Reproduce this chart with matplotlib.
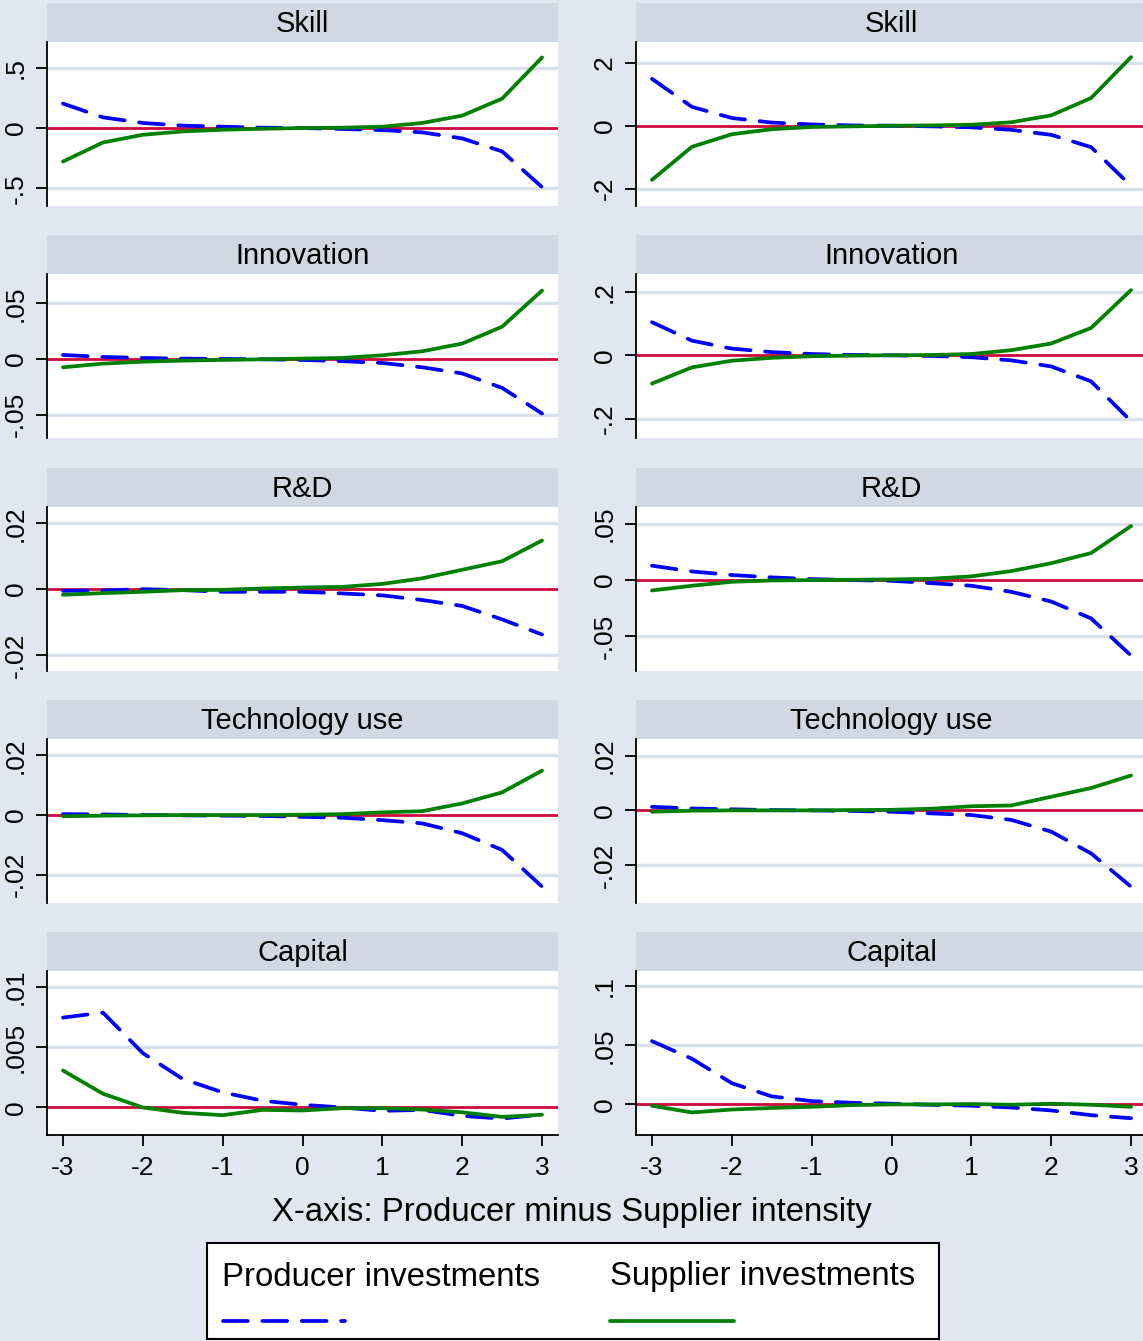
import matplotlib.pyplot as plt
from matplotlib.lines import Line2D

plt.rcParams['font.family'] = ['Liberation Sans', 'DejaVu Sans']

# x grid: producer minus supplier intensity
x = [-3, -2.5, -2, -1.5, -1, -0.5, 0, 0.5, 1, 1.5, 2, 2.5, 3]

titles = ['Skill', 'Innovation', 'R&D', 'Technology use', 'Capital']

# left column
skill_prod_l = [0.203, 0.089, 0.042, 0.02, 0.011, 0.003, 0, -0.008, -0.017, -0.036, -0.086, -0.194, -0.49]
skill_supp_l = [-0.278, -0.12, -0.056, -0.028, -0.014, -0.006, 0, 0.003, 0.011, 0.042, 0.103, 0.244, 0.586]
innov_prod_l = [0.0036, 0.0018, 0.0009, 0.0003, 0, -0.0003, -0.0009, -0.002, -0.0036, -0.0075, -0.013, -0.026, -0.049]
innov_supp_l = [-0.0075, -0.0042, -0.0024, -0.0015, -0.0009, -0.0003, 0.0003, 0.0009, 0.0033, 0.0069, 0.0138, 0.029, 0.0614]
rd_prod_l = [-0.0005, -0.0004, 0, -0.0003, -0.0008, -0.0008, -0.0008, -0.0013, -0.0019, -0.0033, -0.0051, -0.0092, -0.0138]
rd_supp_l = [-0.0017, -0.0012, -0.0008, -0.0003, -0.0002, 0.0002, 0.0005, 0.0007, 0.0016, 0.0033, 0.0059, 0.0085, 0.0148]
tech_prod_l = [0.0003, 0.0002, 0, -0.0001, -0.0002, -0.0003, -0.0006, -0.0009, -0.0017, -0.0028, -0.0061, -0.0117, -0.024]
tech_supp_l = [-0.0004, -0.0002, -0.0001, 0, 0, 0, 0.0001, 0.0003, 0.0009, 0.0013, 0.0039, 0.0076, 0.0149]
cap_prod_l = [0.00744, 0.00786, 0.0045, 0.00236, 0.00125, 0.00056, 0.00022, 0, -0.00028, -0.0002, -0.0007, -0.00092, -0.00058]
cap_supp_l = [0.00306, 0.00114, 0, -0.00044, -0.00064, -0.0002, -0.00025, -0.00006, -0.00006, -0.00017, -0.0004, -0.00078, -0.0006]

# right column
skill_prod_r = [1.49, 0.6, 0.245, 0.1, 0.04, 0.01, 0, -0.02, -0.05, -0.13, -0.29, -0.68, -1.91]
skill_supp_r = [-1.72, -0.67, -0.27, -0.11, -0.04, -0.02, 0, 0.01, 0.03, 0.11, 0.33, 0.88, 2.18]
innov_prod_r = [0.104, 0.046, 0.021, 0.01, 0.004, 0.001, 0, -0.002, -0.006, -0.016, -0.035, -0.082, -0.207]
innov_supp_r = [-0.089, -0.038, -0.017, -0.008, -0.003, -0.001, 0, 0.001, 0.004, 0.016, 0.037, 0.086, 0.205]
rd_prod_r = [0.0128, 0.0077, 0.0045, 0.0024, 0.0009, 0, -0.0006, -0.0027, -0.005, -0.0104, -0.019, -0.034, -0.067]
rd_supp_r = [-0.0092, -0.005, -0.0015, -0.0003, 0, 0.0003, 0.0006, 0.0012, 0.0033, 0.008, 0.015, 0.024, 0.048]
tech_prod_r = [0.0013, 0.0007, 0.0004, 0.0001, 0, -0.0002, -0.0005, -0.0011, -0.0017, -0.0035, -0.0078, -0.0158, -0.028]
tech_supp_r = [-0.0005, -0.0001, 0, 0, 0, 0.0001, 0.0002, 0.0006, 0.0015, 0.0018, 0.005, 0.0082, 0.0128]
cap_prod_r = [0.0536, 0.0387, 0.018, 0.0068, 0.0028, 0.0014, 0.0006, -0.0003, -0.0011, -0.0026, -0.0051, -0.0091, -0.0117]
cap_supp_r = [-0.0011, -0.0068, -0.0043, -0.003, -0.002, -0.0006, 0, 0, 0.0003, -0.0003, 0.0006, -0.0003, -0.002]

prod_l = [skill_prod_l, innov_prod_l, rd_prod_l, tech_prod_l, cap_prod_l]
supp_l = [skill_supp_l, innov_supp_l, rd_supp_l, tech_supp_l, cap_supp_l]
prod_r = [skill_prod_r, innov_prod_r, rd_prod_r, tech_prod_r, cap_prod_r]
supp_r = [skill_supp_r, innov_supp_r, rd_supp_r, tech_supp_r, cap_supp_r]

yticks_l = [[-0.5, 0, 0.5], [-0.05, 0, 0.05], [-0.02, 0, 0.02], [-0.02, 0, 0.02], [0, 0.005, 0.01]]
ylabels_l = [['-.5', '0', '.5'], ['-.05', '0', '.05'], ['-.02', '0', '.02'], ['-.02', '0', '.02'], ['0', '.005', '.01']]
yticks_r = [[-2, 0, 2], [-0.2, 0, 0.2], [-0.05, 0, 0.05], [-0.02, 0, 0.02], [0, 0.05, 0.1]]
ylabels_r = [['-2', '0', '2'], ['-.2', '0', '.2'], ['-.05', '0', '.05'], ['-.02', '0', '.02'], ['0', '.05', '.1']]

ylims_l = [(-0.647, 0.714), (-0.071, 0.0763), (-0.0249, 0.025), (-0.0295, 0.0255), (-0.00228, 0.0113)]
ylims_r = [(-2.55, 2.66), (-0.26, 0.2555), (-0.0807, 0.0649), (-0.034, 0.0262), (-0.0259, 0.113)]

xticks = [-3, -2, -1, 0, 1, 2, 3]

# colours
BG = '#e1e6f0'
BAND = '#d2d8e3'
GRID = '#dae1eb'
BLUE = '#0000ff'
GREEN = '#008000'
RED = '#cc0a3c'

W, H = 1143, 1341
fig = plt.figure(figsize=(W / 100, H / 100), dpi=100)
fig.patch.set_facecolor(BG)


def box(x0, y0, w, h):
    # pixel box (from top-left) -> figure fraction
    return [x0 / W, 1 - (y0 + h) / H, w / W, h / H]


col_x = [47, 636]
col_w = 511
band_top = [3, 235, 468, 700, 932]
band_h = 39
plot_h = 164
LW = 2.7
DASH = (6.6, 3.9)

for c in range(2):
    prods = prod_l if c == 0 else prod_r
    supps = supp_l if c == 0 else supp_r
    yt = yticks_l if c == 0 else yticks_r
    yl = ylabels_l if c == 0 else ylabels_r
    lims = ylims_l if c == 0 else ylims_r
    for r in range(5):
        # title band
        bax = fig.add_axes(box(col_x[c], band_top[r], col_w, band_h))
        bax.set_facecolor(BAND)
        bax.set_xticks([])
        bax.set_yticks([])
        for s in bax.spines.values():
            s.set_visible(False)
        bax.text(0.5, 0.47, titles[r], ha='center', va='center', fontsize=21,
                 transform=bax.transAxes)

        ax = fig.add_axes(box(col_x[c], band_top[r] + band_h, col_w, plot_h))
        ax.set_facecolor('white')
        ax.set_xlim(-3.2, 3.2)
        ax.set_ylim(*lims[r])
        for v in yt[r]:
            if v != 0:
                ax.axhline(v, color=GRID, lw=2.4, zorder=1)
        ax.axhline(0, color=RED, lw=2.0, zorder=2)
        ax.plot(x, prods[r], color=BLUE, lw=LW, dashes=DASH,
                dash_capstyle='round', zorder=3)
        ax.plot(x, supps[r], color=GREEN, lw=LW, solid_capstyle='round', zorder=4)

        ax.set_yticks(yt[r])
        ax.set_yticklabels(yl[r], rotation=90, va='center', fontsize=19)
        ax.tick_params(axis='y', length=8, width=1.3, pad=6)
        for s in ['top', 'right']:
            ax.spines[s].set_visible(False)
        ax.spines['left'].set_linewidth(1.3)
        if r == 4:
            ax.set_xticks(xticks)
            ax.set_xticklabels([str(t) for t in xticks], fontsize=19)
            ax.tick_params(axis='x', length=8, width=1.3, pad=7)
            ax.spines['bottom'].set_linewidth(1.3)
        else:
            ax.set_xticks([])
            ax.spines['bottom'].set_visible(False)

fig.text(572 / W, 1 - 1213 / H, 'X-axis: Producer minus Supplier intensity',
         ha='center', va='center', fontsize=23.7)

# legend box, Stata style: labels above keys
lax = fig.add_axes(box(207, 1243, 732, 96))
lax.set_xlim(0, 732)
lax.set_ylim(96, 0)
lax.set_facecolor('white')
lax.set_xticks([])
lax.set_yticks([])
for s in lax.spines.values():
    s.set_linewidth(1.5)
    s.set_color('black')
lax.text(15, 34, 'Producer investments', ha='left', va='center', fontsize=23.7)
lax.text(403, 34, 'Supplier investments', ha='left', va='center', fontsize=23.7)
lax.add_line(Line2D([16, 138], [78, 78], color=BLUE, lw=LW, dashes=DASH,
                    dash_capstyle='round'))
lax.add_line(Line2D([403, 527], [78, 78], color=GREEN, lw=LW,
                    solid_capstyle='round'))

fig.savefig('out.png', dpi=100, facecolor=BG)
